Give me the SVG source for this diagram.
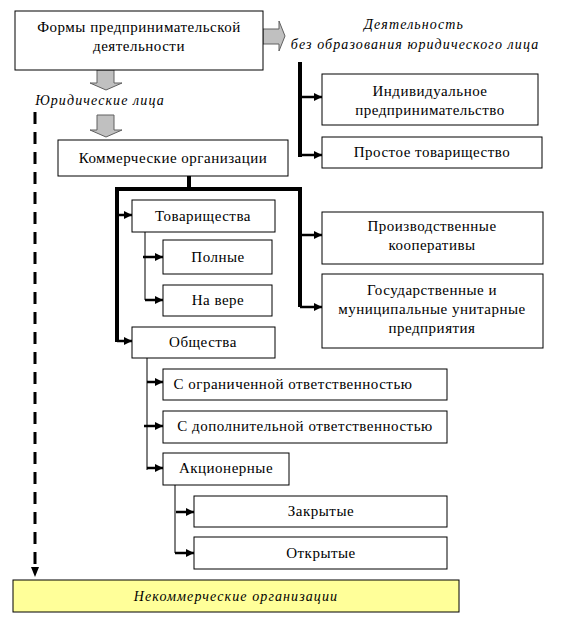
<svg xmlns="http://www.w3.org/2000/svg" width="566" height="617" viewBox="0 0 566 617">
<defs>
<style>
.box{fill:#fff;stroke:#000;stroke-width:1}
.t{font-family:"Liberation Serif","Times New Roman",serif;font-size:15px;letter-spacing:0.5px;fill:#000;text-anchor:middle}
.i{font-family:"Liberation Serif","Times New Roman",serif;font-size:14px;font-style:italic;fill:#000;text-anchor:middle;letter-spacing:1.1px}
.thick{stroke:#000;stroke-width:4;fill:none}
.thin{stroke:#000;stroke-width:1;fill:none}
.stub{stroke:#000;stroke-width:2.5;fill:none}
.blk{fill:#c0c0c0;stroke:#606060;stroke-width:1}
</style>
<marker id="ah" markerUnits="userSpaceOnUse" viewBox="0 0 8 8" refX="8" refY="4" markerWidth="8" markerHeight="8" orient="auto">
<path d="M0,0 L8,4 L0,8 z" fill="#000"/>
</marker>
</defs>

<g id="connectors">
<path class="blk" d="M263,29 H279 V21 L285,36 L279,51 V44 H263 z"/>
<path class="blk" d="M97,70 H114 V83 H122 L106,90 L90,83 H97 z"/>
<path class="blk" d="M97,115 H114 V130 H122 L106,137 L90,130 H97 z"/>
<line x1="35" y1="112" x2="35" y2="568" stroke="#000" stroke-width="3" stroke-dasharray="12,8"/>
<path d="M31,567 L39,567 L35,577 z" fill="#000"/>
<line class="thick" x1="300" y1="62" x2="300" y2="157"/>
<line class="stub" x1="300" y1="97" x2="322" y2="97" marker-end="url(#ah)"/>
<line class="stub" x1="300" y1="155" x2="322" y2="155" marker-end="url(#ah)"/>
<polyline class="thick" points="189,176 189,189"/>
<polyline class="thick" points="117,342 117,189 300,189 300,307"/>
<line class="stub" x1="117" y1="215" x2="132" y2="215" marker-end="url(#ah)"/>
<line class="stub" x1="117" y1="341" x2="132" y2="341" marker-end="url(#ah)"/>
<line class="stub" x1="300" y1="235" x2="322" y2="235" marker-end="url(#ah)"/>
<line class="stub" x1="300" y1="307" x2="322" y2="307" marker-end="url(#ah)"/>
<line class="thin" x1="145" y1="232" x2="145" y2="300"/>
<line class="stub" x1="143" y1="257" x2="163" y2="257" marker-end="url(#ah)"/>
<line class="stub" x1="145" y1="300" x2="163" y2="300" marker-end="url(#ah)"/>
<line class="thin" x1="147" y1="358" x2="147" y2="470"/>
<line class="stub" x1="147" y1="382" x2="163" y2="382" marker-end="url(#ah)"/>
<line class="stub" x1="144" y1="426" x2="163" y2="426" marker-end="url(#ah)"/>
<line class="stub" x1="147" y1="468" x2="163" y2="468" marker-end="url(#ah)"/>
<line class="thin" x1="175" y1="485" x2="175" y2="553"/>
<line class="stub" x1="176" y1="512" x2="194" y2="512" marker-end="url(#ah)"/>
<line class="stub" x1="175" y1="553" x2="194" y2="553" marker-end="url(#ah)"/>
</g>

<g id="forms"><rect class="box" x="15" y="11" width="248" height="59"/>
<text class="t" x="139" y="32">Формы предпринимательской</text>
<text class="t" x="139" y="51">деятельности</text></g>

<g id="label-legal"><text class="i" x="100" y="105">Юридические лица</text></g>

<g id="label-nolegal"><text class="i" x="414" y="29">Деятельность</text>
<text class="i" x="415" y="49">без образования юридического лица</text></g>

<g id="individual"><rect class="box" x="322" y="74" width="216" height="51"/>
<text class="t" x="430" y="96">Индивидуальное</text>
<text class="t" x="430" y="115">предпринимательство</text></g>

<g id="simple"><rect class="box" x="322" y="137" width="220" height="31"/>
<text class="t" x="432" y="157">Простое товарищество</text></g>

<g id="commercial"><rect class="box" x="58" y="140" width="230" height="36"/>
<text class="t" x="173" y="163">Коммерческие организации</text></g>

<g id="partnerships"><rect class="box" x="132" y="200" width="143" height="32"/>
<text class="t" x="203" y="221">Товарищества</text></g>

<g id="full"><rect class="box" x="163" y="240" width="109" height="34"/>
<text class="t" x="218" y="262">Полные</text></g>

<g id="faith"><rect class="box" x="163" y="285" width="109" height="31"/>
<text class="t" x="218" y="305">На вере</text></g>

<g id="societies"><rect class="box" x="132" y="327" width="143" height="31"/>
<text class="t" x="203" y="347">Общества</text></g>

<g id="coops"><rect class="box" x="322" y="212" width="221" height="52"/>
<text class="t" x="432" y="231">Производственные</text>
<text class="t" x="432" y="250">кооперативы</text></g>

<g id="state"><rect class="box" x="322" y="274" width="221" height="74"/>
<text class="t" x="432" y="295">Государственные и</text>
<text class="t" x="432" y="314">муниципальные унитарные</text>
<text class="t" x="432" y="333">предприятия</text></g>

<g id="llc"><rect class="box" x="163" y="369" width="284" height="31"/>
<text class="t" x="293" y="389">С ограниченной ответственностью</text></g>

<g id="alc"><rect class="box" x="163" y="411" width="284" height="32"/>
<text class="t" x="305" y="431">С дополнительной ответственностью</text></g>

<g id="jsc"><rect class="box" x="163" y="453" width="126" height="32"/>
<text class="t" x="226" y="473">Акционерные</text></g>

<g id="closed"><rect class="box" x="194" y="496" width="253" height="31"/>
<text class="t" x="321" y="516">Закрытые</text></g>

<g id="open"><rect class="box" x="194" y="537" width="253" height="32"/>
<text class="t" x="321" y="558">Открытые</text></g>

<g id="noncommercial"><rect x="13" y="580" width="446" height="32" fill="#ffff99" stroke="#000" stroke-width="1"/>
<text class="i" x="236" y="601">Некоммерческие организации</text></g>
</svg>
